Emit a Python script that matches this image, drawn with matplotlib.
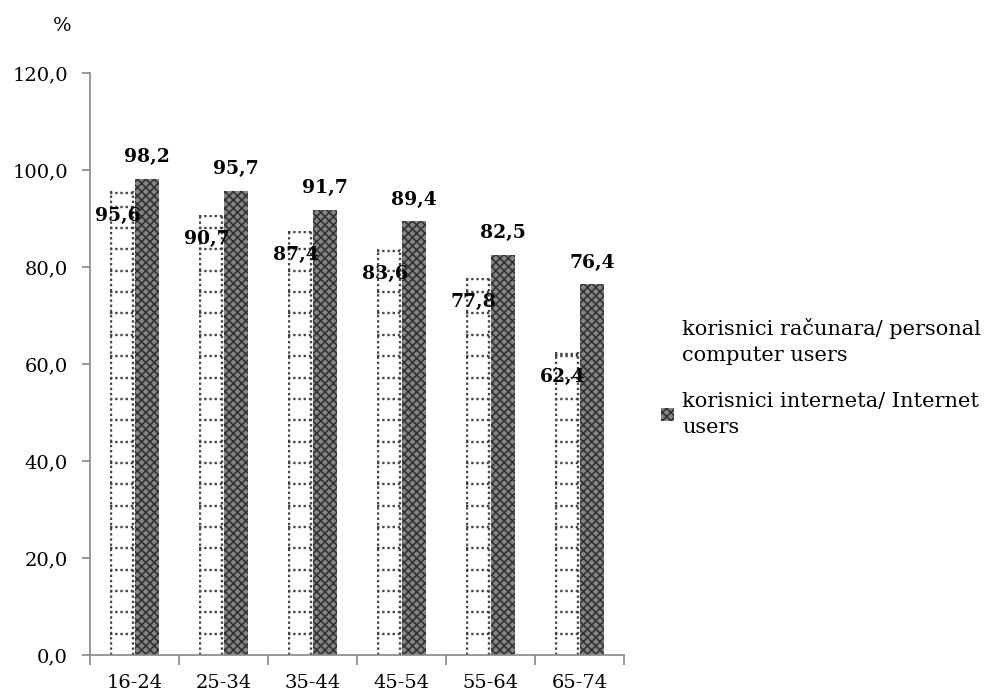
import numpy as np
import matplotlib.pyplot as plt
import matplotlib as mpl
from matplotlib.patches import Patch

age_groups = ['16-24', '25-34', '35-44', '45-54', '55-64', '65-74']
computer_users = [95.6, 90.7, 87.4, 83.6, 77.8, 62.4]
internet_users = [98.2, 95.7, 91.7, 89.4, 82.5, 76.4]
series_names = ['korisnici računara/ personal\ncomputer users',
                'korisnici interneta/ Internet\nusers']
y_ticks = [0, 20, 40, 60, 80, 100, 120]

plt.rcParams['font.family'] = ['DejaVu Serif']
mpl.rcParams['hatch.linewidth'] = 1.2

fig = plt.figure(figsize=(9.86, 6.98), dpi=100)
ax = fig.add_axes([0.0913, 0.0616, 0.5416, 0.834])

x = np.arange(len(age_groups))
w = 0.28
dots = (0, (1, 1.2))

# dotted grid bars for computer users
bars1 = ax.bar(x - w / 2, computer_users, w, color='white', edgecolor='none')
for b in bars1:
    x0, h = b.get_x(), b.get_height()
    for yy in list(np.arange(4.4, h, 4.4)) + [h - 0.3]:
        ln, = ax.plot([x0, x0 + w], [yy, yy], ls=dots, color='#444444', lw=1.7)
        ln.set_clip_path(b)
    for xx in (x0 + 0.02, x0 + w - 0.02):
        ln, = ax.plot([xx, xx], [0, h], ls=dots, color='#444444', lw=1.7)
        ln.set_clip_path(b)

bars2 = ax.bar(x + w / 2, internet_users, w, color='#858585', edgecolor='#333333',
               hatch='xxxx', linewidth=0)

for b, v in zip(bars1, computer_users):
    ax.text(b.get_x() + w / 2 - 0.05, v - 5, f'{v:.1f}'.replace('.', ','),
            ha='center', va='center', fontsize=13.5, fontweight='bold')
for b, v in zip(bars2, internet_users):
    ax.text(b.get_x() + w / 2, v + 4.5, f'{v:.1f}'.replace('.', ','),
            ha='center', va='center', fontsize=13.5, fontweight='bold')

ax.set_xlim(-0.5, len(age_groups) - 0.5)
ax.set_ylim(0, 120)
ax.set_yticks(y_ticks)
ax.set_yticklabels([f'{t:.1f}'.replace('.', ',') for t in y_ticks], fontsize=14)
ax.set_xticks(x)
ax.set_xticklabels(age_groups, fontsize=14)
ax.tick_params(axis='x', length=0, pad=14)
ax.set_xticks(np.arange(-0.5, len(age_groups)), minor=True)
ax.tick_params(axis='x', which='minor', length=7, color='#888888', width=1.2)
ax.tick_params(axis='y', length=6, color='#888888', width=1.2, pad=10)
for s in ('top', 'right'):
    ax.spines[s].set_visible(False)
for s in ('left', 'bottom'):
    ax.spines[s].set_color('#888888')
    ax.spines[s].set_linewidth(1.2)

fig.text(0.063, 0.963, '%', fontsize=14, ha='center', va='center')

handles = [Patch(facecolor='white', edgecolor='#555555', hatch='|', linewidth=0),
           Patch(facecolor='#858585', edgecolor='#333333', hatch='xxxx', linewidth=0)]
leg = ax.legend(handles, series_names, loc='center left', bbox_to_anchor=(1.035, 0.477),
                frameon=False, fontsize=15, handlelength=0.6, handleheight=0.6,
                handletextpad=0.4, labelspacing=1.3)
for t in leg.get_texts():
    t.set_linespacing(1.45)

fig.savefig('out.png', dpi=100)
